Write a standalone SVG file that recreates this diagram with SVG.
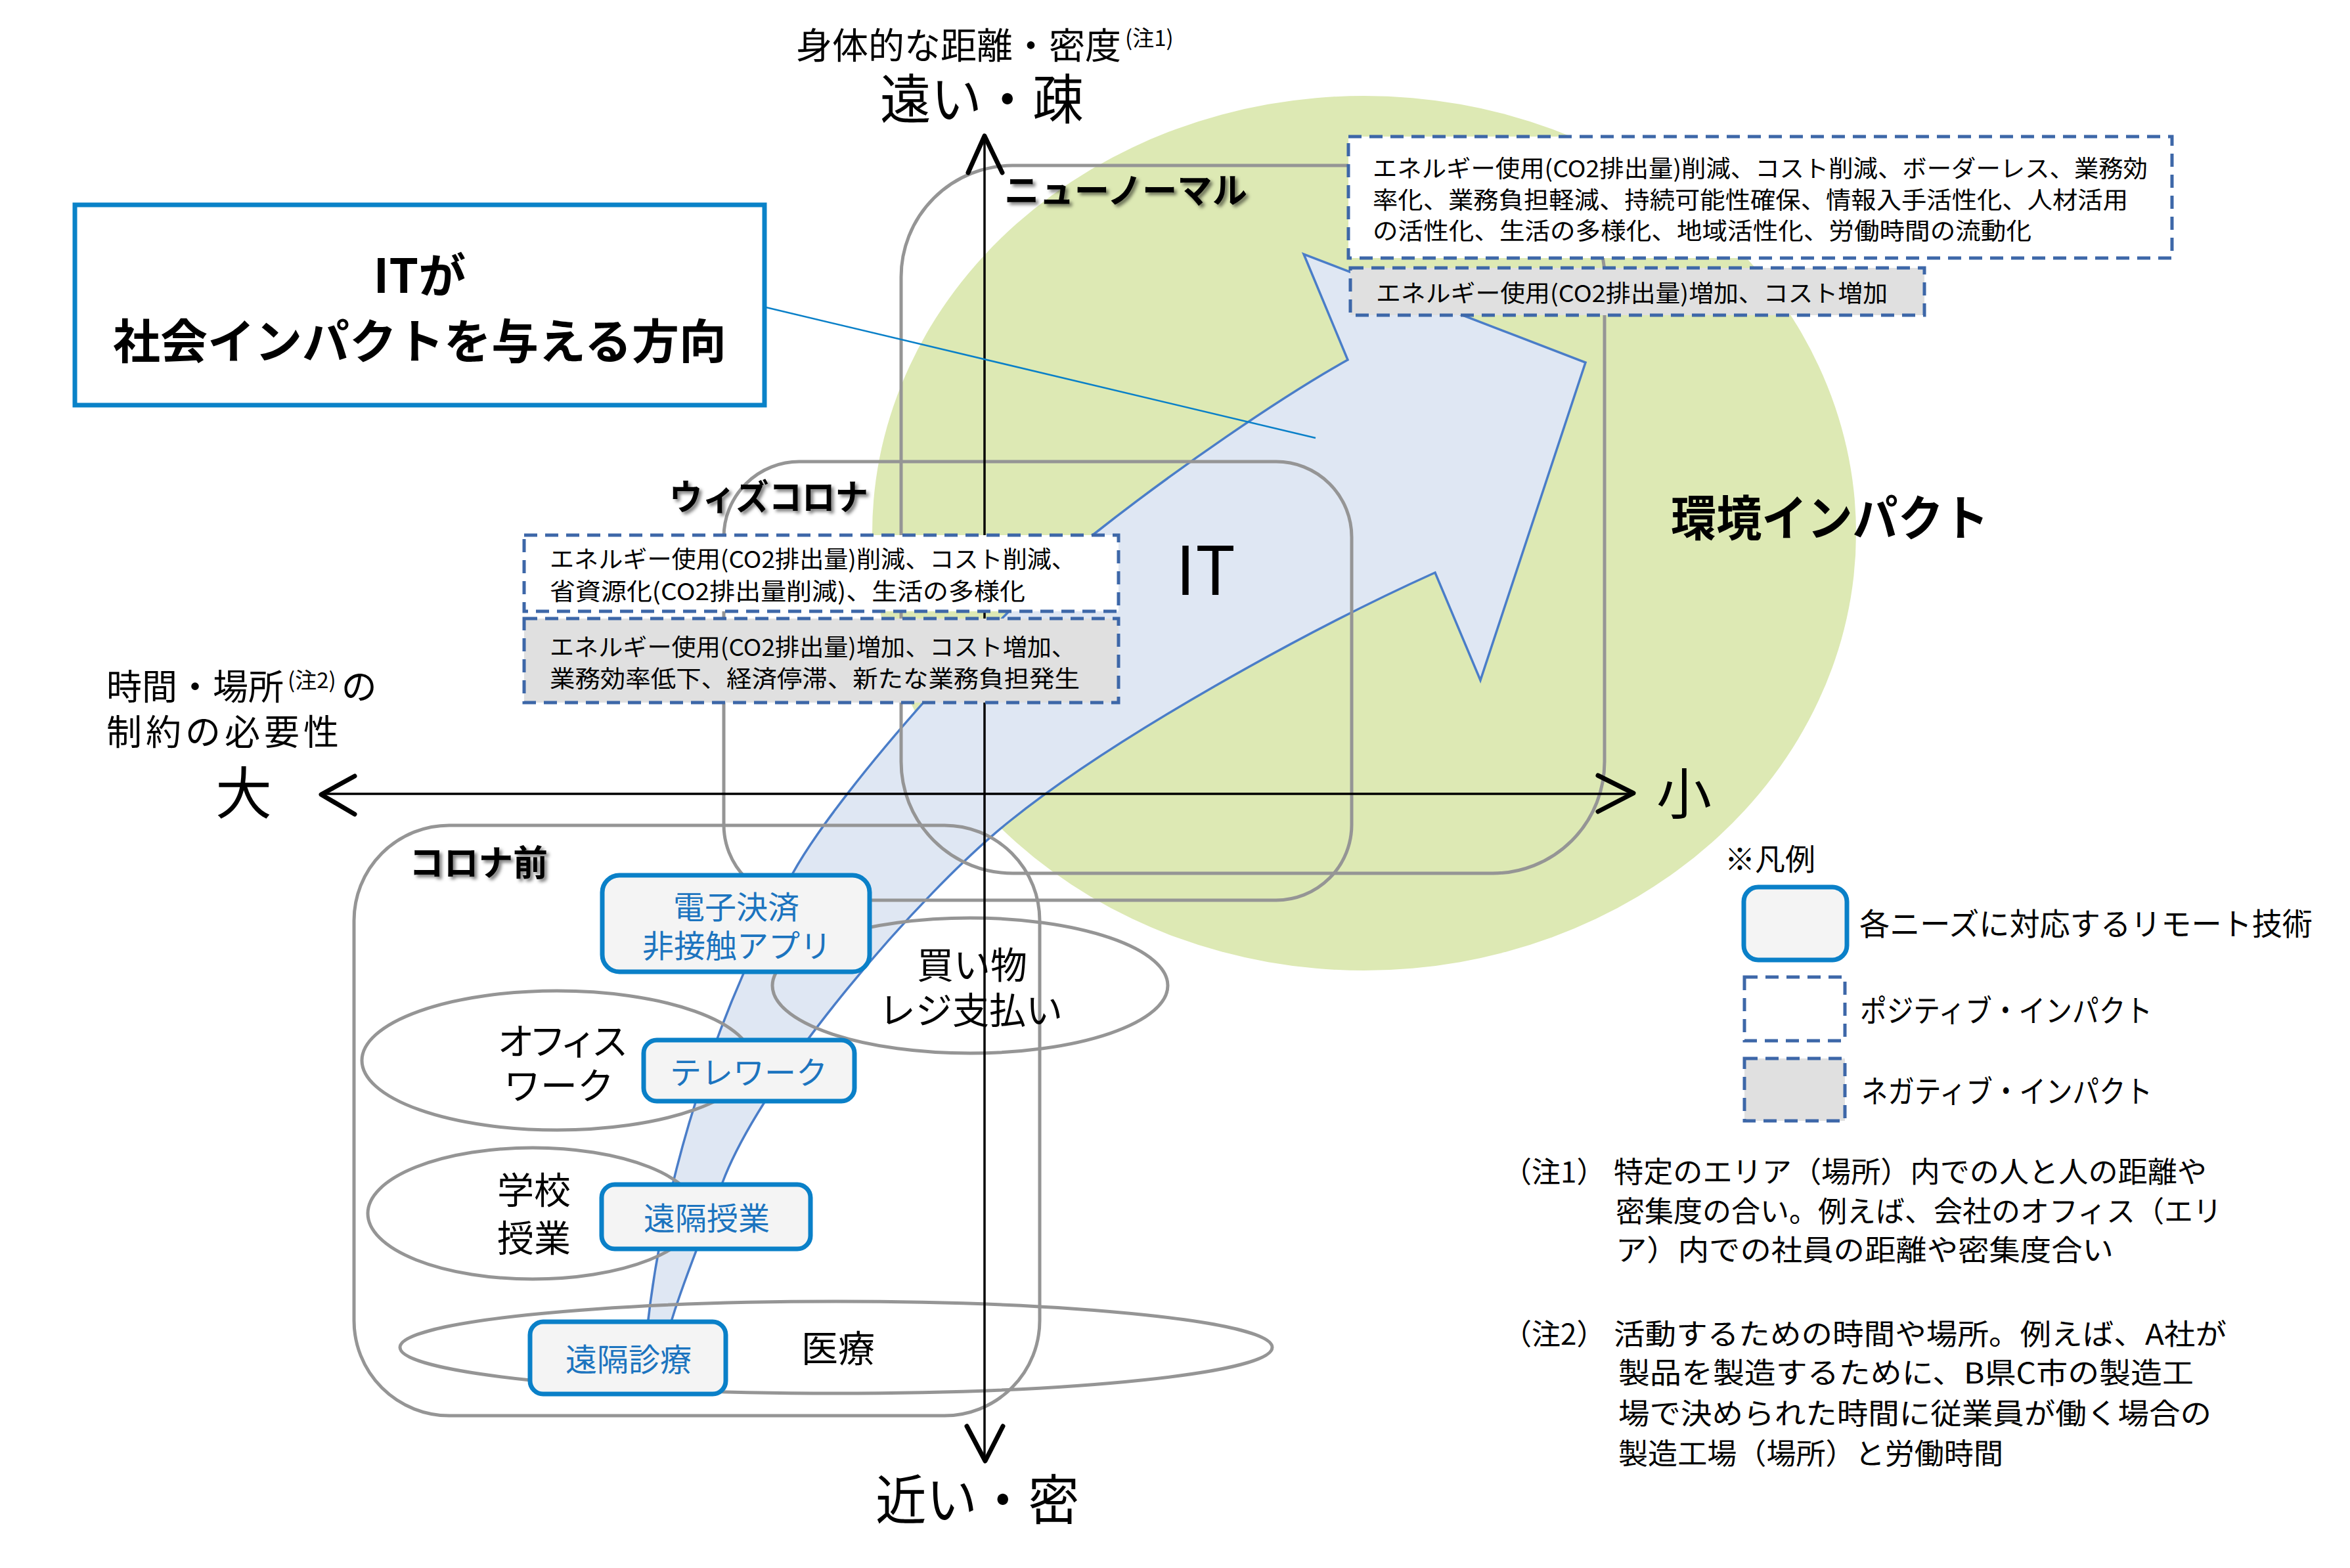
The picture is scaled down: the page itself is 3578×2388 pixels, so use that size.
<svg xmlns="http://www.w3.org/2000/svg" width="3578" height="2388" viewBox="0 0 3578 2388">
<defs>
<style>
text { font-family: "Noto Sans CJK JP", "Noto Sans", sans-serif; fill: #000; }
.phase { fill: none; stroke: #959595; stroke-width: 5; }
.need { fill: none; stroke: #959595; stroke-width: 5; }
.tech { fill: #f4f4f4; stroke: #0a80c8; stroke-width: 7; }
.techt { fill: #1c74bf; font-size: 48px; text-anchor: middle; }
.pos { fill: #ffffff; stroke: #3d67a8; stroke-width: 5; stroke-dasharray: 20 12; }
.neg { fill: #e0e0e0; stroke: #3d67a8; stroke-width: 5; stroke-dasharray: 20 12; }
.imp { font-size: 36px; }
.axis { stroke: #000; stroke-width: 3.5; fill: none; }
.head { stroke: #000; stroke-width: 7; fill: none; stroke-linecap: round; stroke-linejoin: round; }
.plabel { font-size: 54px; font-weight: bold; filter: url(#sh); }
.nlabel { font-size: 56px; text-anchor: middle; }
.note { font-size: 44px; }
.leg { font-size: 47px; }
</style>
<filter id="sh" x="-10%" y="-20%" width="130%" height="160%">
<feDropShadow dx="4" dy="4" stdDeviation="2.5" flood-color="#000" flood-opacity="0.5"/>
</filter>
</defs>
<rect x="0" y="0" width="3578" height="2388" fill="#ffffff"/>

<g id="env-impact">
<ellipse cx="2077" cy="812" rx="749" ry="666" fill="#dde9b4"/>
</g>

<g id="it-arrow">
<path d="M 978 2120 C 990 1850 1080 1560 1207 1330 C 1280 1198 1530 920 1666 813 C 1790 715 1950 605 2052 548 L 1985 387 L 2414 552 L 2254 1036 L 2185 872 C 1990 960 1700 1120 1538 1250 C 1400 1360 1160 1640 1100 1801 C 1065 1895 1005 2030 1000 2120 Z" fill="#dfe7f3" stroke="#4a7dc8" stroke-width="3.5" stroke-linejoin="miter"/>
<text x="1790" y="906" font-family="Liberation Sans, Arial, sans-serif" font-size="102">IT</text>
</g>

<g id="phase-newnormal">
<rect class="phase" x="1372" y="252" width="1071" height="1078" rx="170"/>
</g>
<g id="phase-withcorona">
<rect class="phase" x="1102" y="703" width="956" height="668" rx="115"/>
</g>
<g id="phase-precorona">
<rect class="phase" x="539" y="1257" width="1044" height="899" rx="145"/>
</g>

<g id="need-shopping">
<ellipse class="need" cx="1477" cy="1501" rx="301" ry="103"/>
<text class="nlabel"><tspan x="1480" y="1490">買い物</tspan><tspan x="1478" y="1559">レジ支払い</tspan></text>
</g>
<g id="need-office">
<ellipse class="need" cx="848" cy="1615" rx="297" ry="106"/>
<text class="nlabel"><tspan x="853" y="1606" letter-spacing="-8">オフィス</tspan><tspan x="851" y="1674">ワーク</tspan></text>
</g>
<g id="need-school">
<ellipse class="need" cx="811" cy="1848" rx="251" ry="100"/>
<text class="nlabel"><tspan x="813" y="1833">学校</tspan><tspan x="813" y="1906">授業</tspan></text>
</g>
<g id="need-medical">
<ellipse class="need" cx="1273" cy="2052" rx="664" ry="70"/>
<text class="nlabel" x="1276" y="2074">医療</text>
</g>

<g id="connectors">
<line class="axis" x1="490" y1="1209" x2="2486" y2="1209"/>
<polyline class="head" points="540,1182 489,1210 540,1240"/>
<polyline class="head" points="2433,1181 2487,1208 2433,1236"/>
<line class="axis" x1="1499" y1="209" x2="1499" y2="2222"/>
<polyline class="head" points="1474,263 1499,207 1526,263"/>
<polyline class="head" points="1472,2172 1500,2225 1527,2172"/>
<line x1="1166" y1="468" x2="2003" y2="667" stroke="#0a80c8" stroke-width="2.5"/>
</g>

<g id="phase-labels">
<text class="plabel" x="1529" y="310" textLength="370" lengthAdjust="spacingAndGlyphs">ニューノーマル</text>
<text class="plabel" x="1019" y="777" textLength="303" lengthAdjust="spacingAndGlyphs">ウィズコロナ</text>
<text class="plabel" x="623" y="1334" textLength="211" lengthAdjust="spacingAndGlyphs">コロナ前</text>
</g>

<g id="impact-newnormal-positive">
<rect class="pos" x="2053" y="208" width="1254" height="185"/>
<text class="imp" x="2090" y="270" textLength="1180" lengthAdjust="spacingAndGlyphs">エネルギー使用(CO2排出量)削減、コスト削減、ボーダーレス、業務効</text>
<text class="imp" x="2090" y="318" textLength="1150" lengthAdjust="spacingAndGlyphs">率化、業務負担軽減、持続可能性確保、情報入手活性化、人材活用</text>
<text class="imp" x="2090" y="365" textLength="1003" lengthAdjust="spacingAndGlyphs">の活性化、生活の多様化、地域活性化、労働時間の流動化</text>
</g>
<g id="impact-newnormal-negative">
<rect class="neg" x="2056" y="408" width="874" height="72"/>
<text class="imp" x="2095" y="460" textLength="779" lengthAdjust="spacingAndGlyphs">エネルギー使用(CO2排出量)増加、コスト増加</text>
</g>
<g id="impact-withcorona-positive">
<rect class="pos" x="798" y="815" width="905" height="116"/>
<text class="imp" x="837" y="865" textLength="801" lengthAdjust="spacingAndGlyphs">エネルギー使用(CO2排出量)削減、コスト削減、</text>
<text class="imp" x="837" y="914" textLength="724" lengthAdjust="spacingAndGlyphs">省資源化(CO2排出量削減)、生活の多様化</text>
</g>
<g id="impact-withcorona-negative">
<rect class="neg" x="798" y="942" width="905" height="128"/>
<text class="imp" x="837" y="999" textLength="801" lengthAdjust="spacingAndGlyphs">エネルギー使用(CO2排出量)増加、コスト増加、</text>
<text class="imp" x="837" y="1047" textLength="807" lengthAdjust="spacingAndGlyphs">業務効率低下、経済停滞、新たな業務負担発生</text>
</g>

<g id="tech-payment">
<rect class="tech" x="917" y="1333" width="407" height="147" rx="26"/>
<text class="techt"><tspan x="1121" y="1399">電子決済</tspan><tspan x="1122" y="1458">非接触アプリ</tspan></text>
</g>
<g id="tech-telework">
<rect class="tech" x="980" y="1584" width="321" height="93" rx="20"/>
<text class="techt" x="1140" y="1651">テレワーク</text>
</g>
<g id="tech-remote-class">
<rect class="tech" x="916" y="1804" width="318" height="98" rx="20"/>
<text class="techt" x="1076" y="1873">遠隔授業</text>
</g>
<g id="tech-telemedicine">
<rect class="tech" x="807" y="2013" width="298" height="110" rx="20"/>
<text class="techt" x="957" y="2088">遠隔診療</text>
</g>

<g id="title-box">
<rect x="114" y="312" width="1050" height="305" fill="#ffffff" stroke="#0a82c8" stroke-width="7"/>
<text font-size="72" font-weight="bold" text-anchor="middle"><tspan x="639" y="446">ITが</tspan><tspan x="639" y="546">社会インパクトを与える方向</tspan></text>
</g>

<g id="axis-labels">
<text x="1212" y="89" font-size="55">身体的な距離・密度<tspan font-size="33" dx="6" dy="-19">(注1)</tspan></text>
<text x="1340" y="181" font-size="82" textLength="310" lengthAdjust="spacingAndGlyphs">遠い・疎</text>
<text x="1333" y="2314" font-size="82" textLength="310" lengthAdjust="spacingAndGlyphs">近い・密</text>
<text x="162" y="1066" font-size="54">時間・場所<tspan font-size="33" dx="6" dy="-18">(注2)</tspan><tspan dx="8" dy="18">の</tspan><tspan x="162" y="1135" letter-spacing="6">制約の必要性</tspan></text>
<text x="328" y="1240" font-size="86">大</text>
<text x="2522" y="1240" font-size="84">小</text>
<text x="2544" y="816" font-size="74" font-weight="bold" textLength="484" lengthAdjust="spacingAndGlyphs">環境インパクト</text>
</g>

<g id="legend">
<text x="2626" y="1325" font-size="46">※凡例</text>
<rect class="tech" x="2655" y="1351" width="157" height="111" rx="22"/>
<text class="leg" x="2831" y="1424" textLength="690" lengthAdjust="spacingAndGlyphs">各ニーズに対応するリモート技術</text>
<rect class="pos" x="2656" y="1488" width="153" height="97"/>
<text class="leg" x="2832" y="1556" textLength="445" lengthAdjust="spacingAndGlyphs">ポジティブ・インパクト</text>
<rect class="neg" x="2656" y="1612" width="153" height="95"/>
<text class="leg" x="2834" y="1679" textLength="443" lengthAdjust="spacingAndGlyphs">ネガティブ・インパクト</text>
</g>

<g id="notes">
<text class="note" x="2288" y="1801">（注1）</text>
<text class="note" x="2457" y="1801" textLength="903" lengthAdjust="spacingAndGlyphs">特定のエリア（場所）内での人と人の距離や</text>
<text class="note" x="2460" y="1861" textLength="923" lengthAdjust="spacingAndGlyphs">密集度の合い。例えば、会社のオフィス（エリ</text>
<text class="note" x="2460" y="1920" textLength="758" lengthAdjust="spacingAndGlyphs">ア）内での社員の距離や密集度合い</text>
<text class="note" x="2288" y="2048">（注2）</text>
<text class="note" x="2457" y="2048" textLength="933" lengthAdjust="spacingAndGlyphs">活動するための時間や場所。例えば、A社が</text>
<text class="note" x="2464" y="2107" textLength="876" lengthAdjust="spacingAndGlyphs">製品を製造するために、B県C市の製造工</text>
<text class="note" x="2464" y="2169" textLength="903" lengthAdjust="spacingAndGlyphs">場で決められた時間に従業員が働く場合の</text>
<text class="note" x="2464" y="2230" textLength="586" lengthAdjust="spacingAndGlyphs">製造工場（場所）と労働時間</text>
</g>
</svg>
